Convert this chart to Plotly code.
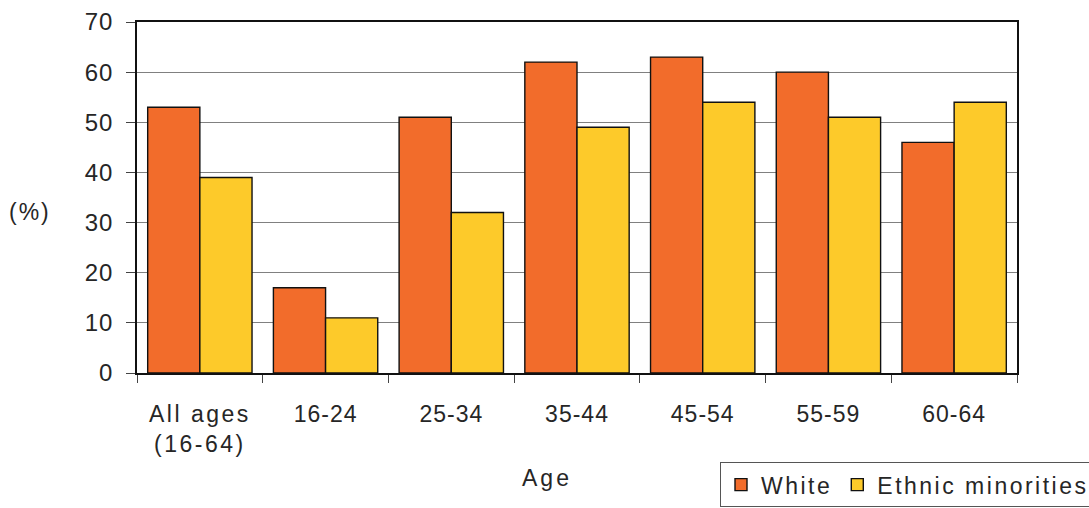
import plotly.graph_objects as go

categories = ["All ages (16-64)", "16-24", "25-34", "35-44", "45-54", "55-59", "60-64"]
x_labels = ["All ages<br>(16-64)", "16-24", "25-34", "35-44", "45-54", "55-59", "60-64"]
white = [53, 17, 51, 62, 63, 60, 46]
ethnic = [39, 11, 32, 49, 54, 51, 54]
y_ticks = [0, 10, 20, 30, 40, 50, 60, 70]

FAMILY = "Liberation Sans, Arial, Helvetica, sans-serif"
INK = "#262626"


def spaced(text, px):
    """Wrap each line of a label in a span with extra letter spacing."""
    lines = text.split("<br>")
    return "<br>".join(f'<span style="letter-spacing:{px}px">{ln}</span>' for ln in lines)


def tick_spacing(label):
    return 2.5 if any(c.isalpha() for c in label) else 1


fig = go.Figure()
fig.add_trace(go.Bar(x=categories, y=white, name=spaced("White", 2.5),
                     marker=dict(color="#F26C2B", line=dict(color="#111", width=1.4))))
fig.add_trace(go.Bar(x=categories, y=ethnic, name=spaced("Ethnic minorities", 2.5),
                     marker=dict(color="#FDCA2A", line=dict(color="#111", width=1.4))))

fig.update_layout(
    width=1089, height=508,
    margin=dict(l=137, r=72, t=22, b=135, autoexpand=False),
    paper_bgcolor="white", plot_bgcolor="white",
    font=dict(family=FAMILY, size=23, color=INK),
    barmode="group", bargap=0.17, bargroupgap=0,
    showlegend=True,
    legend=dict(orientation="h", x=0.6625, y=-0.254, xanchor="left", yanchor="top",
                bordercolor="#555", borderwidth=1, bgcolor="white",
                font=dict(family=FAMILY, size=23, color=INK),
                itemwidth=30, tracegroupgap=0),
    xaxis=dict(tickvals=categories,
               ticktext=[spaced(t, tick_spacing(t)) for t in x_labels],
               showline=True, linecolor="#111", linewidth=1.5, mirror=True,
               ticks="outside", tickson="boundaries", ticklen=8, tickcolor="#444",
               ticklabelstandoff=20),
    yaxis=dict(range=[0, 70], tickvals=y_ticks,
               ticktext=[spaced(str(v), 1) for v in y_ticks],
               tickfont=dict(size=24),
               showline=True, linecolor="#111", linewidth=1.5, mirror=True,
               ticks="outside", ticklen=9, tickcolor="#444", ticklabelstandoff=8,
               gridcolor="#808080", gridwidth=1, zeroline=False),
)
fig.add_annotation(text=spaced("(%)", 2), xref="paper", yref="paper",
                   x=-0.1216, y=0.459, xanchor="center", yanchor="middle",
                   showarrow=False, font=dict(family=FAMILY, size=23, color=INK))
fig.add_annotation(text=spaced("Age", 3), xref="paper", yref="paper",
                   x=0.466, y=-0.299, xanchor="center", yanchor="middle",
                   showarrow=False, font=dict(family=FAMILY, size=23, color=INK))

fig.write_html("out.html")
